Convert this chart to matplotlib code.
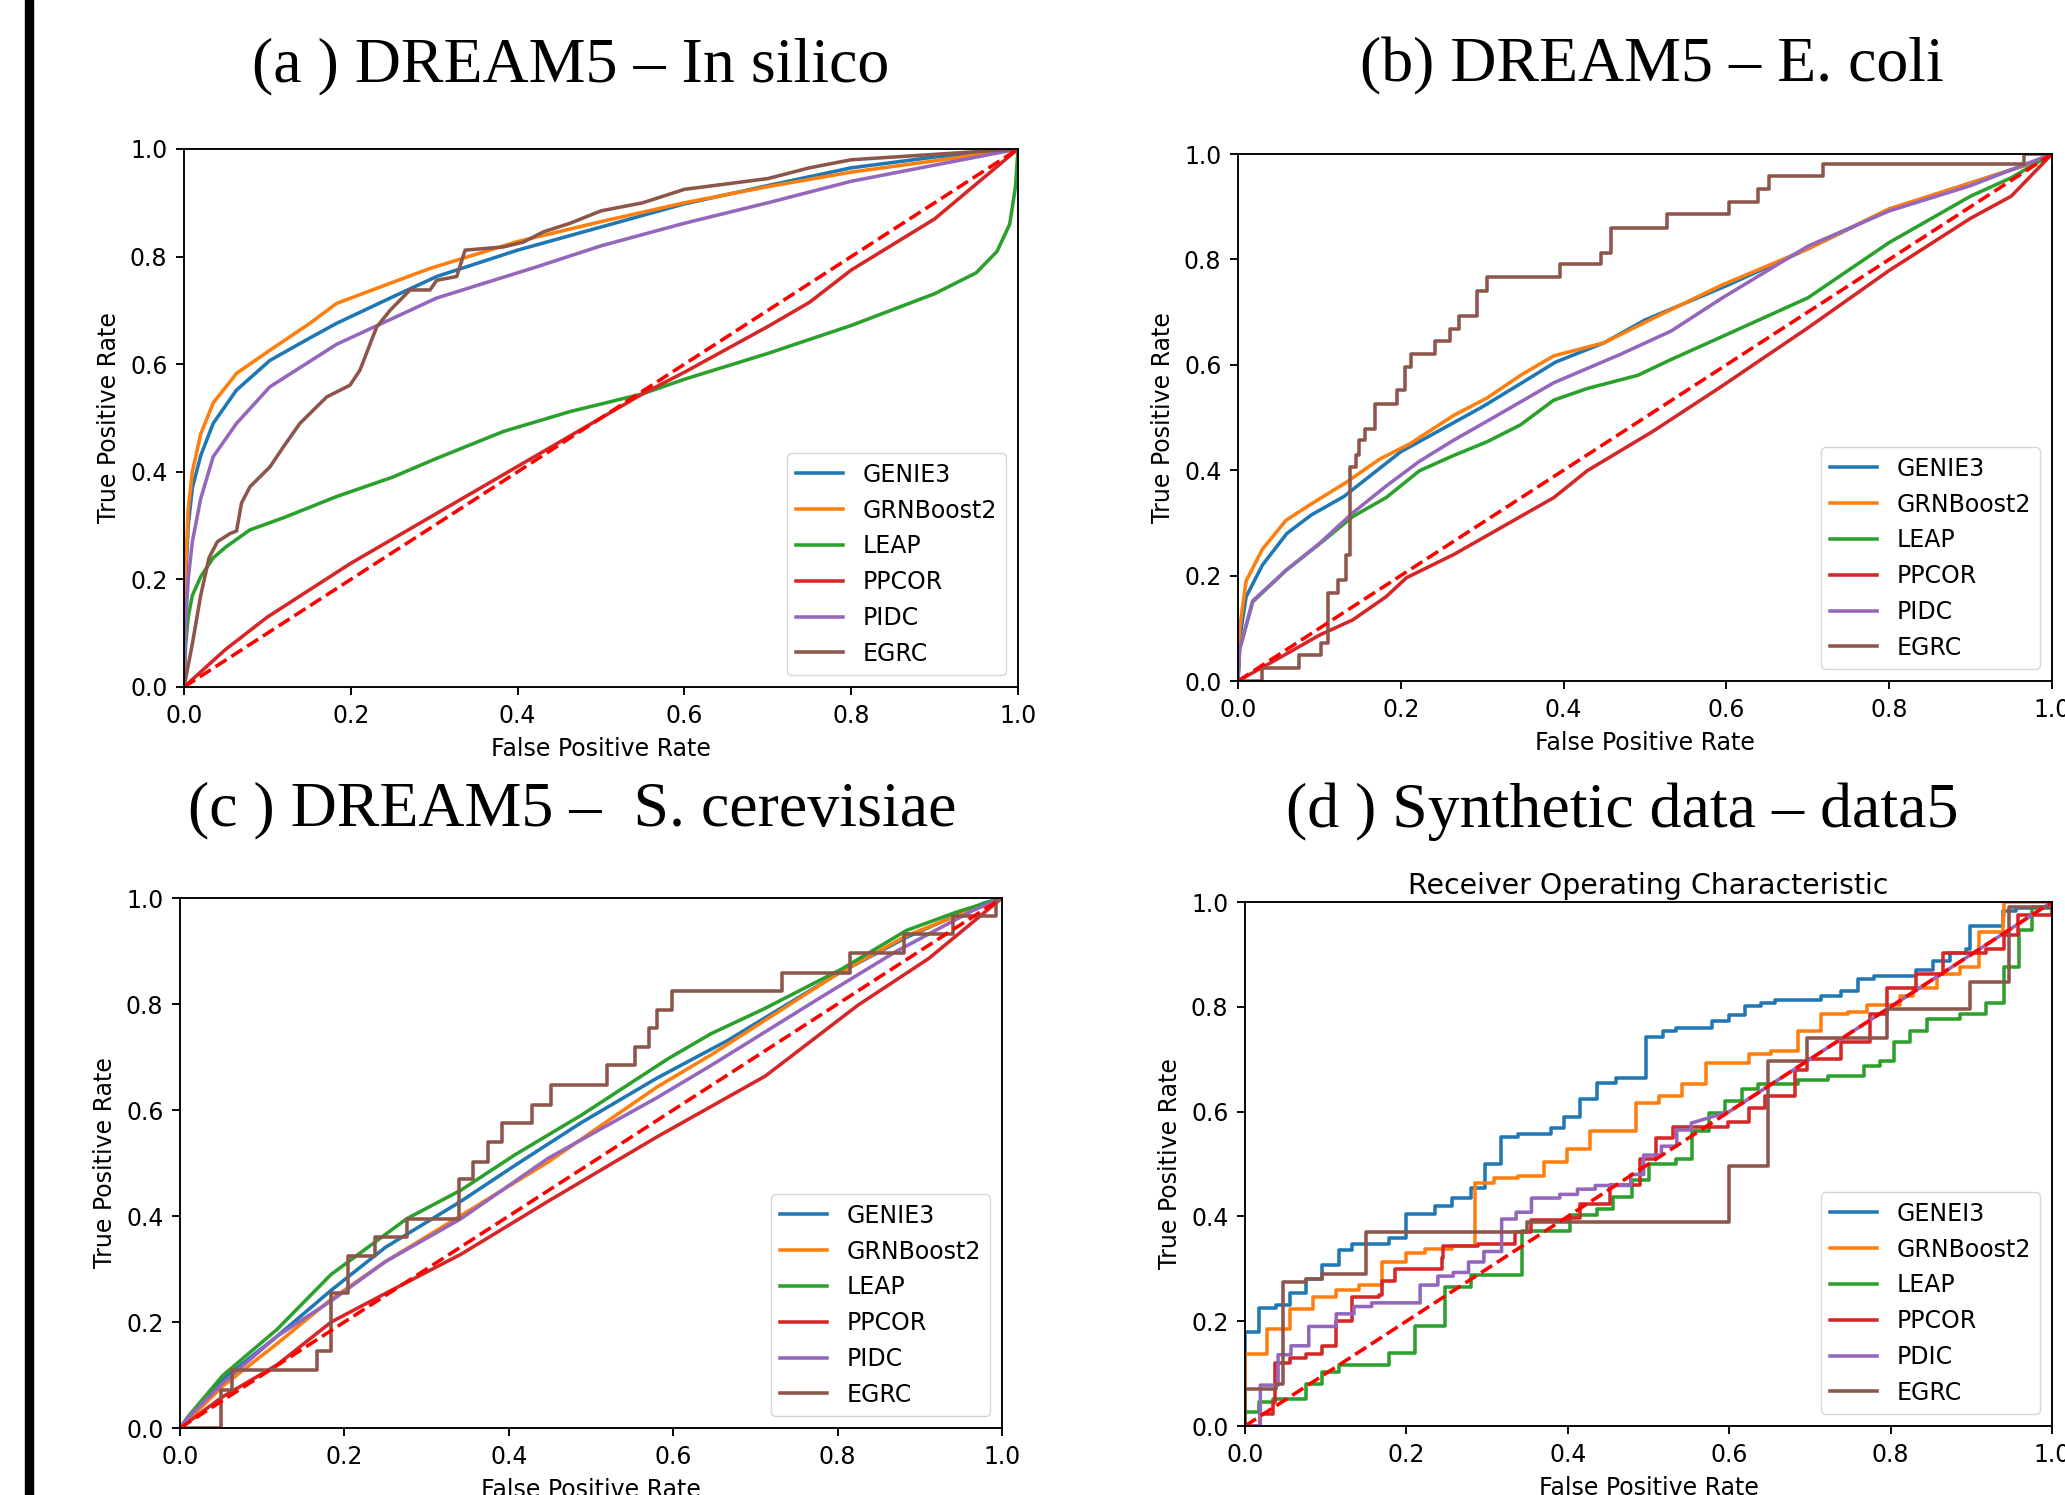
import numpy as np
from matplotlib import pyplot as plt
from matplotlib.patches import Rectangle

# ---- data (fpr, tpr) ----
# (a) DREAM5 - In silico
a_genie3_x = [0, 0.002, 0.005, 0.01, 0.02, 0.035, 0.063, 0.103, 0.15, 0.183, 0.25, 0.303, 0.4, 0.5, 0.6, 0.7, 0.8, 0.9, 1.0]
a_genie3_y = [0, 0.2, 0.3, 0.37, 0.43, 0.49, 0.552, 0.607, 0.648, 0.676, 0.725, 0.763, 0.812, 0.855, 0.898, 0.932, 0.965, 0.985, 1.0]
a_grnb_x = [0, 0.002, 0.005, 0.01, 0.02, 0.035, 0.063, 0.103, 0.15, 0.183, 0.25, 0.295, 0.4, 0.5, 0.6, 0.7, 0.8, 0.9, 1.0]
a_grnb_y = [0, 0.22, 0.33, 0.4, 0.47, 0.528, 0.583, 0.626, 0.675, 0.713, 0.752, 0.778, 0.828, 0.865, 0.9, 0.93, 0.957, 0.978, 1.0]
a_leap_x = [0, 0.002, 0.005, 0.01, 0.02, 0.035, 0.05, 0.079, 0.12, 0.183, 0.25, 0.303, 0.383, 0.463, 0.55, 0.6, 0.7, 0.8, 0.9, 0.95, 0.975, 0.99, 0.997, 1.0]
a_leap_y = [0, 0.08, 0.13, 0.17, 0.205, 0.24, 0.26, 0.292, 0.315, 0.354, 0.39, 0.425, 0.475, 0.512, 0.545, 0.572, 0.62, 0.672, 0.731, 0.77, 0.81, 0.86, 0.93, 1.0]
a_ppcor_x = [0, 0.05, 0.1, 0.15, 0.2, 0.3, 0.4, 0.5, 0.55, 0.6, 0.7, 0.75, 0.8, 0.9, 1.0]
a_ppcor_y = [0, 0.07, 0.13, 0.18, 0.23, 0.32, 0.41, 0.5, 0.545, 0.585, 0.67, 0.715, 0.775, 0.87, 1.0]
a_pidc_x = [0, 0.002, 0.005, 0.01, 0.02, 0.035, 0.063, 0.103, 0.183, 0.25, 0.303, 0.423, 0.5, 0.6, 0.7, 0.8, 0.9, 1.0]
a_pidc_y = [0, 0.12, 0.2, 0.27, 0.35, 0.428, 0.49, 0.558, 0.637, 0.685, 0.723, 0.781, 0.82, 0.862, 0.9, 0.94, 0.97, 1.0]
a_egrc_x = [0, 0.01, 0.02, 0.03, 0.04, 0.055, 0.063, 0.069, 0.079, 0.103, 0.119, 0.139, 0.171, 0.199, 0.211, 0.231, 0.247, 0.271, 0.295,
            0.303, 0.327, 0.337, 0.383, 0.407, 0.431, 0.463, 0.5, 0.55, 0.6, 0.65, 0.7, 0.75, 0.8, 0.9, 1.0]
a_egrc_y = [0, 0.08, 0.17, 0.24, 0.27, 0.285, 0.29, 0.342, 0.372, 0.409, 0.446, 0.49, 0.539, 0.561, 0.589, 0.669, 0.70, 0.738, 0.738,
            0.756, 0.763, 0.812, 0.818, 0.827, 0.846, 0.862, 0.885, 0.9, 0.925, 0.935, 0.945, 0.965, 0.98, 0.99, 1.0]

# (b) DREAM5 - E. coli
b_genie3_x = [0, 0.002, 0.01, 0.03, 0.06, 0.09, 0.13, 0.2, 0.3, 0.35, 0.39, 0.45, 0.5, 0.6, 0.7, 0.8, 0.9, 0.97, 1.0]
b_genie3_y = [0, 0.08, 0.16, 0.22, 0.28, 0.315, 0.35, 0.435, 0.52, 0.567, 0.605, 0.642, 0.685, 0.75, 0.82, 0.895, 0.945, 0.98, 1.0]
b_grnb_x = [0, 0.002, 0.01, 0.03, 0.059, 0.088, 0.133, 0.174, 0.211, 0.265, 0.306, 0.347, 0.388, 0.45, 0.511, 0.594, 0.7, 0.8, 0.9, 0.97, 1.0]
b_grnb_y = [0, 0.1, 0.19, 0.25, 0.305, 0.334, 0.377, 0.421, 0.45, 0.504, 0.537, 0.58, 0.617, 0.642, 0.689, 0.751, 0.82, 0.896, 0.945, 0.98, 1.0]
b_leap_x = [0, 0.002, 0.018, 0.059, 0.1, 0.141, 0.182, 0.223, 0.265, 0.306, 0.347, 0.388, 0.429, 0.491, 0.532, 0.594, 0.7, 0.8, 0.9, 0.95, 1.0]
b_leap_y = [0, 0.06, 0.15, 0.21, 0.26, 0.312, 0.348, 0.399, 0.428, 0.454, 0.486, 0.533, 0.555, 0.58, 0.61, 0.653, 0.727, 0.832, 0.92, 0.955, 1.0]
b_ppcor_x = [0, 0.059, 0.1, 0.141, 0.182, 0.207, 0.265, 0.306, 0.388, 0.429, 0.511, 0.594, 0.7, 0.8, 0.9, 0.95, 1.0]
b_ppcor_y = [0, 0.051, 0.087, 0.116, 0.16, 0.196, 0.24, 0.276, 0.348, 0.399, 0.475, 0.559, 0.67, 0.779, 0.878, 0.92, 1.0]
b_pidc_x = [0, 0.002, 0.018, 0.059, 0.1, 0.141, 0.182, 0.223, 0.265, 0.306, 0.388, 0.47, 0.532, 0.594, 0.7, 0.8, 0.9, 1.0]
b_pidc_y = [0, 0.06, 0.152, 0.21, 0.261, 0.319, 0.37, 0.417, 0.457, 0.493, 0.566, 0.62, 0.664, 0.726, 0.825, 0.892, 0.94, 1.0]
# staircase: fpr where the curve rises, tpr level after the rise
b_egrc_x = [0, 0.029, 0.075, 0.102, 0.11, 0.123, 0.133, 0.137, 0.145, 0.149, 0.156, 0.168, 0.195, 0.205, 0.213, 0.242, 0.26, 0.271,
            0.293, 0.306, 0.396, 0.446, 0.458, 0.527, 0.603, 0.639, 0.652, 0.719, 0.965, 1.0]
b_egrc_y = [0, 0.025, 0.049, 0.073, 0.167, 0.192, 0.24, 0.406, 0.428, 0.457, 0.479, 0.526, 0.552, 0.595, 0.62, 0.646, 0.668, 0.693,
            0.74, 0.766, 0.791, 0.813, 0.86, 0.887, 0.908, 0.934, 0.958, 0.981, 1.0, 1.0]

# (c) DREAM5 - S. cerevisiae
c_genie3_x = [0, 0.01, 0.052, 0.118, 0.184, 0.25, 0.342, 0.408, 0.488, 0.58, 0.666, 0.798, 0.884, 0.977, 1.0]
c_genie3_y = [0, 0.02, 0.092, 0.173, 0.26, 0.341, 0.428, 0.496, 0.576, 0.66, 0.731, 0.855, 0.926, 0.99, 1.0]
c_grnb_x = [0, 0.01, 0.052, 0.118, 0.184, 0.25, 0.342, 0.448, 0.58, 0.646, 0.798, 0.884, 1.0]
c_grnb_y = [0, 0.015, 0.079, 0.159, 0.243, 0.314, 0.401, 0.502, 0.643, 0.704, 0.855, 0.929, 1.0]
c_leap_x = [0, 0.01, 0.052, 0.118, 0.184, 0.276, 0.342, 0.408, 0.488, 0.594, 0.646, 0.712, 0.805, 0.884, 0.944, 1.0]
c_leap_y = [0, 0.022, 0.099, 0.186, 0.29, 0.395, 0.449, 0.516, 0.59, 0.697, 0.744, 0.792, 0.866, 0.939, 0.973, 1.0]
c_ppcor_x = [0, 0.052, 0.118, 0.184, 0.25, 0.342, 0.448, 0.58, 0.712, 0.825, 0.911, 1.0]
c_ppcor_y = [0, 0.059, 0.119, 0.2, 0.254, 0.328, 0.428, 0.549, 0.664, 0.798, 0.886, 1.0]
c_pidc_x = [0, 0.01, 0.052, 0.118, 0.184, 0.25, 0.342, 0.448, 0.58, 0.646, 0.779, 0.871, 0.964, 1.0]
c_pidc_y = [0, 0.02, 0.085, 0.173, 0.24, 0.314, 0.395, 0.509, 0.623, 0.684, 0.812, 0.899, 0.976, 1.0]
c_egrc_x = [0, 0.05, 0.063, 0.167, 0.184, 0.204, 0.237, 0.276, 0.339, 0.356, 0.375, 0.392, 0.428, 0.451, 0.519, 0.554, 0.57,
            0.58, 0.599, 0.732, 0.815, 0.881, 0.94, 0.993, 1.0]
c_egrc_y = [0, 0.072, 0.109, 0.146, 0.254, 0.324, 0.361, 0.395, 0.469, 0.502, 0.539, 0.576, 0.61, 0.647, 0.684, 0.718, 0.755,
            0.788, 0.824, 0.859, 0.896, 0.933, 0.966, 1.0, 1.0]

# (d) Synthetic data - data5 (all staircases)
d_genie3_x = [0, 0, 0.017, 0.039, 0.056, 0.076, 0.096, 0.117, 0.133, 0.178, 0.199, 0.235, 0.256, 0.28, 0.297, 0.317, 0.338, 0.379,
              0.395, 0.415, 0.436, 0.46, 0.497, 0.518, 0.534, 0.579, 0.6, 0.62, 0.64, 0.657, 0.714, 0.738, 0.759, 0.779, 0.832,
              0.853, 0.873, 0.894, 0.898, 0.939, 0.955, 1.0]
d_genie3_y = [0, 0.18, 0.225, 0.23, 0.254, 0.281, 0.308, 0.335, 0.348, 0.359, 0.404, 0.42, 0.436, 0.455, 0.5, 0.551, 0.557, 0.569,
              0.589, 0.625, 0.654, 0.665, 0.743, 0.754, 0.759, 0.772, 0.784, 0.802, 0.808, 0.8125, 0.821, 0.83, 0.853, 0.859, 0.87,
              0.888, 0.902, 0.911, 0.954, 0.982, 0.988, 1.0]
d_grnb_x = [0, 0, 0.027, 0.056, 0.084, 0.113, 0.141, 0.17, 0.199, 0.223, 0.256, 0.285, 0.309, 0.338, 0.37, 0.399, 0.428, 0.485,
            0.513, 0.542, 0.571, 0.624, 0.652, 0.685, 0.714, 0.747, 0.771, 0.812, 0.828, 0.857, 0.886, 0.91, 0.939, 0.941, 1.0]
d_grnb_y = [0, 0.138, 0.186, 0.223, 0.246, 0.259, 0.27, 0.3125, 0.33, 0.3375, 0.344, 0.464, 0.473, 0.478, 0.504, 0.529, 0.5625,
            0.616, 0.629, 0.652, 0.692, 0.71, 0.716, 0.754, 0.786, 0.79, 0.804, 0.821, 0.835, 0.862, 0.875, 0.942, 0.973, 1.0, 1.0]
d_leap_x = [0, 0, 0.017, 0.035, 0.076, 0.096, 0.117, 0.178, 0.211, 0.248, 0.28, 0.343, 0.403, 0.436, 0.456, 0.48, 0.501, 0.534,
            0.554, 0.575, 0.595, 0.616, 0.636, 0.685, 0.722, 0.767, 0.787, 0.804, 0.824, 0.845, 0.886, 0.918, 0.941, 0.959, 0.975, 1.0]
d_leap_y = [0, 0.027, 0.045, 0.052, 0.08, 0.103, 0.116, 0.14, 0.19, 0.265, 0.289, 0.372, 0.402, 0.415, 0.4375, 0.469, 0.5, 0.509,
            0.5625, 0.598, 0.62, 0.643, 0.652, 0.661, 0.668, 0.6875, 0.696, 0.732, 0.754, 0.777, 0.786, 0.808, 0.875, 0.946, 0.991, 1.0]
d_ppcor_x = [0, 0.019, 0.035, 0.037, 0.056, 0.076, 0.096, 0.113, 0.133, 0.166, 0.17, 0.186, 0.244, 0.245, 0.289, 0.334, 0.354,
             0.403, 0.415, 0.452, 0.489, 0.509, 0.53, 0.599, 0.624, 0.644, 0.681, 0.697, 0.738, 0.775, 0.796, 0.832, 0.865, 0.918,
             0.941, 0.958, 1.0]
d_ppcor_y = [0, 0.022, 0.045, 0.121, 0.129, 0.138, 0.152, 0.201, 0.246, 0.25, 0.277, 0.299, 0.321, 0.344, 0.348, 0.371, 0.393,
             0.397, 0.424, 0.46, 0.509, 0.549, 0.571, 0.58, 0.607, 0.629, 0.679, 0.701, 0.732, 0.786, 0.835, 0.862, 0.902, 0.911,
             0.9375, 0.975, 1.0]
d_pdic_x = [0, 0.019, 0.041, 0.057, 0.079, 0.113, 0.135, 0.157, 0.217, 0.239, 0.258, 0.277, 0.296, 0.318, 0.336, 0.355, 0.39,
            0.412, 0.434, 0.478, 0.494, 0.516, 0.535, 0.553]
d_pdic_y = [0, 0.078, 0.136, 0.153, 0.19, 0.214, 0.228, 0.235, 0.269, 0.286, 0.293, 0.313, 0.333, 0.395, 0.408, 0.435, 0.442,
            0.452, 0.459, 0.48, 0.517, 0.534, 0.565, 0.578]
d_pdic_tail_x = [0.6, 0.8, 1.0]   # after 0.55 PDIC runs along the diagonal
d_pdic_tail_y = [0.6, 0.8, 1.0]
d_egrc_x = [0, 0, 0.039, 0.047, 0.076, 0.096, 0.15, 0.35, 0.6, 0.648, 0.697, 0.796, 0.898, 0.947, 1.0]
d_egrc_y = [0, 0.071, 0.08, 0.275, 0.281, 0.29, 0.37, 0.39, 0.496, 0.696, 0.741, 0.795, 0.848, 0.99, 1.0]

labels_abc = ['GENIE3', 'GRNBoost2', 'LEAP', 'PPCOR', 'PIDC', 'EGRC']
labels_d = ['GENEI3', 'GRNBoost2', 'LEAP', 'PPCOR', 'PDIC', 'EGRC']
panel_titles = ['(a ) DREAM5 \u2013 In silico', '(b) DREAM5 \u2013 E. coli',
                '(c ) DREAM5 \u2013  S. cerevisiae', '(d ) Synthetic data \u2013 data5']
ticks = [0.0, 0.2, 0.4, 0.6, 0.8, 1.0]


def stairs(xs, ys):
    # roc staircase: rise at each fpr, then run flat to the next
    px, py = [xs[0]], [ys[0]]
    for i in range(1, len(xs)):
        px += [xs[i], xs[i]]
        py += [ys[i - 1], ys[i]]
    return px, py


sc = 1.7  # the panels are upscaled default matplotlib plots
lw = 1.5 * sc
plt.rcParams['font.family'] = 'DejaVu Sans'
plt.rcParams['font.size'] = 10 * sc
plt.rcParams['axes.linewidth'] = 0.8 * sc
for k in ['xtick', 'ytick']:
    plt.rcParams[k + '.major.size'] = 3.5 * sc
    plt.rcParams[k + '.major.width'] = 0.8 * sc
    plt.rcParams[k + '.major.pad'] = 3.5 * sc
plt.rcParams['axes.labelpad'] = 4 * sc
colors = ['C0', 'C1', 'C2', 'C3', 'C4', 'C5']

W, H = 2065, 1495
fig = plt.figure(figsize=(W / 100, H / 100), dpi=100)


def px_axes(l, t, r, b):
    return fig.add_axes([l / W, 1 - b / H, (r - l) / W, (b - t) / H])


ax_a = px_axes(184, 149, 1018, 687)
ax_b = px_axes(1238, 154, 2052, 681)
ax_c = px_axes(180, 898, 1002, 1428)
ax_d = px_axes(1245, 902, 2052, 1426)

curves_a = [(a_genie3_x, a_genie3_y), (a_grnb_x, a_grnb_y), (a_leap_x, a_leap_y),
            (a_ppcor_x, a_ppcor_y), (a_pidc_x, a_pidc_y), (a_egrc_x, a_egrc_y)]
curves_b = [(b_genie3_x, b_genie3_y), (b_grnb_x, b_grnb_y), (b_leap_x, b_leap_y),
            (b_ppcor_x, b_ppcor_y), (b_pidc_x, b_pidc_y), stairs(b_egrc_x, b_egrc_y)]
curves_c = [(c_genie3_x, c_genie3_y), (c_grnb_x, c_grnb_y), (c_leap_x, c_leap_y),
            (c_ppcor_x, c_ppcor_y), (c_pidc_x, c_pidc_y), stairs(c_egrc_x, c_egrc_y)]
pdic_x, pdic_y = stairs(d_pdic_x, d_pdic_y)
curves_d = [stairs(d_genie3_x, d_genie3_y), stairs(d_grnb_x, d_grnb_y), stairs(d_leap_x, d_leap_y),
            stairs(d_ppcor_x, d_ppcor_y), (pdic_x + d_pdic_tail_x, pdic_y + d_pdic_tail_y),
            stairs(d_egrc_x, d_egrc_y)]

for ax, curves, labels in [(ax_a, curves_a, labels_abc), (ax_b, curves_b, labels_abc),
                           (ax_c, curves_c, labels_abc), (ax_d, curves_d, labels_d)]:
    for (x, y), lab, col in zip(curves, labels, colors):
        ax.plot(x, y, color=col, lw=lw, label=lab)
    ax.plot([0, 1], [0, 1], 'r--', lw=lw)
    ax.set_xlim(0, 1)
    ax.set_ylim(0, 1)
    ax.set_xticks(ticks)
    ax.set_yticks(ticks)
    ax.set_xlabel('False Positive Rate')
    ax.set_ylabel('True Positive Rate')
    ax.legend(loc='lower right')

ax_d.set_title('Receiver Operating Characteristic', fontsize=12 * sc)

# outer panel captions and the black bar on the left
title_pos = [(571, 66), (1652, 66), (572, 810), (1622, 812)]
for s, (x, y) in zip(panel_titles, title_pos):
    fig.text(x / W, 1 - y / H, s, ha='center', va='center', fontsize=46, family='Liberation Serif')
fig.patches.append(Rectangle((25 / W, 0), 8 / W, 1, transform=fig.transFigure, color='black', zorder=5))

fig.savefig('out.png', dpi=100)
